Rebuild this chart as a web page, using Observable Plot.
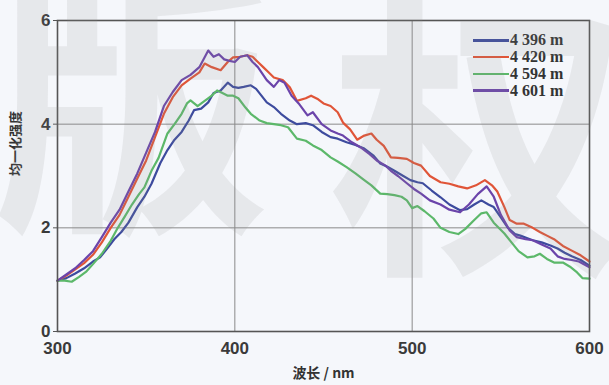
<!DOCTYPE html>
<html>
<head>
<meta charset="utf-8">
<script src="https://cdn.jsdelivr.net/npm/d3@7"></script>
<script src="https://cdn.jsdelivr.net/npm/@observablehq/plot@0.6"></script>
<style>
  html, body { margin: 0; padding: 0; background: #f5f7fb; }
  #wrap { position: relative; width: 609px; height: 385px; overflow: hidden; background: #f5f7fb; }
  #chart svg { display: block; background: transparent; }
  .wm { position: absolute; font-family: "Noto Sans CJK SC", sans-serif; font-weight: 700; color: rgba(140,140,140,0.14); pointer-events: none; line-height: 1; white-space: nowrap; }
  #legend { position: absolute; left: 473px; top: 32px; font-family: "Liberation Serif", "DejaVu Serif", serif; font-weight: 700; font-size: 16px; color: #333; }
  #legend .row { display: flex; align-items: center; height: 16.8px; }
  #legend .sw { width: 36px; height: 2.6px; margin-right: 1px; }
</style>
</head>
<body>
<div id="wrap">
  <div id="chart"></div>
  <div id="legend"></div>
  <div class="wm" style="left:-8px; top:-52px; font-size:280px;">版</div>
  <div class="wm" style="left:330px; top:-30px; font-size:300px;">权</div>
</div>
<script>
// Series names and colours
const seriesNames = ["4 396 m", "4 420 m", "4 594 m", "4 601 m"];
const seriesColors = ["#3d4b9e", "#e05538", "#5cb86a", "#6b44aa"];

// 4 396 m
const wl4396 = [300,305,310,315,320,324,328,332,336,340,345,349,353,358,362,366,370,374,377,381,385,388,392,396,399,402,405,409,412,415,418,422,426,431,435,440,444,449,454,458,463,468,473,478,482,486,490,495,499,503,506,511,516,521,527,531,535,539,543,546,550,554,558,561,565,568,573,578,582,586,590,595,600];
const v4396  = [0.98,1.03,1.12,1.22,1.35,1.43,1.6,1.78,1.92,2.1,2.4,2.6,2.85,3.25,3.5,3.7,3.85,4.07,4.27,4.3,4.42,4.6,4.65,4.8,4.72,4.7,4.72,4.75,4.68,4.55,4.42,4.33,4.2,4.07,4.0,4.02,3.98,3.85,3.75,3.72,3.65,3.6,3.53,3.4,3.24,3.18,3.1,3.0,2.92,2.88,2.86,2.72,2.59,2.45,2.34,2.36,2.45,2.53,2.45,2.4,2.2,2.0,1.88,1.85,1.8,1.76,1.72,1.66,1.6,1.52,1.45,1.38,1.27];

// 4 420 m
const wl4420 = [300,305,310,315,320,325,330,335,340,345,350,355,360,365,370,375,380,383,387,392,396,399,403,407,410,413,416,419,422,427,431,435,440,443,447,450,454,458,461,465,469,473,477,480,484,488,492,497,501,505,510,516,521,526,531,536,541,545,548,552,555,559,563,568,572,576,580,585,590,595,600];
const v4420  = [0.98,1.08,1.2,1.32,1.48,1.72,2.0,2.25,2.6,2.95,3.3,3.75,4.2,4.52,4.75,4.88,5.0,5.17,5.1,5.04,5.2,5.29,5.3,5.33,5.3,5.2,5.1,5.0,4.9,4.85,4.71,4.45,4.5,4.55,4.48,4.4,4.35,4.23,4.03,3.9,3.7,3.78,3.82,3.7,3.58,3.36,3.35,3.33,3.25,3.2,3.0,2.88,2.85,2.8,2.76,2.82,2.92,2.82,2.7,2.4,2.15,2.08,2.08,2.0,1.92,1.85,1.78,1.65,1.56,1.47,1.35];

// 4 594 m
const wl4594 = [300,304,308,312,316,320,325,330,334,338,342,346,349,353,357,362,366,370,373,375,379,383,387,390,393,396,399,402,406,409,414,418,422,426,430,435,440,444,449,454,458,463,468,473,477,482,486,490,494,497,500,503,507,512,516,521,526,530,535,539,542,546,552,556,560,565,569,572,576,580,585,589,593,596,600];
const v4594  = [0.98,0.98,0.96,1.05,1.15,1.3,1.5,1.75,2.0,2.22,2.45,2.65,2.78,3.1,3.35,3.82,4.0,4.2,4.4,4.46,4.35,4.45,4.55,4.65,4.6,4.55,4.55,4.5,4.32,4.2,4.07,4.02,4.0,3.98,3.94,3.72,3.68,3.59,3.5,3.36,3.28,3.17,3.05,2.92,2.82,2.66,2.65,2.63,2.6,2.53,2.38,2.42,2.32,2.18,2.0,1.92,1.88,1.98,2.15,2.28,2.3,2.1,1.89,1.72,1.55,1.43,1.45,1.5,1.4,1.33,1.33,1.25,1.14,1.03,1.02];

// 4 601 m
const wl4601 = [300,305,310,315,320,325,330,335,340,345,350,355,360,365,370,375,380,385,388,391,394,397,400,403,407,410,413,418,422,425,428,432,436,441,444,449,454,458,461,466,471,476,480,485,488,492,497,501,505,510,516,521,527,532,537,542,546,550,555,559,564,568,573,578,582,586,590,594,600];
const v4601  = [0.98,1.1,1.22,1.38,1.55,1.82,2.1,2.35,2.7,3.05,3.45,3.85,4.35,4.62,4.85,4.95,5.1,5.42,5.3,5.35,5.25,5.22,5.2,5.3,5.33,5.2,5.1,4.85,4.72,4.85,4.8,4.55,4.4,4.17,4.23,4.0,3.88,3.82,3.78,3.65,3.55,3.42,3.3,3.2,3.1,3.0,2.86,2.75,2.66,2.53,2.45,2.35,2.3,2.45,2.65,2.8,2.6,2.25,1.95,1.82,1.78,1.76,1.68,1.6,1.45,1.4,1.38,1.35,1.24];

// Axis ticks
const xTicks = [300, 400, 500, 600];
const yTicks = [0, 2, 4, 6];

const allWl = [wl4396, wl4420, wl4594, wl4601];
const allV = [v4396, v4420, v4594, v4601];
const rows = [];
seriesNames.forEach((name, i) => {
  allWl[i].forEach((w, j) => rows.push({series: name, wl: w, v: allV[i][j]}));
});

const chart = Plot.plot({
  width: 609,
  height: 385,
  marginLeft: 57,
  marginRight: 20,
  marginTop: 20,
  marginBottom: 54,
  style: {background: "transparent", fontFamily: "Liberation Sans, Arial, sans-serif"},
  x: {domain: [300, 600], ticks: xTicks, label: null},
  y: {domain: [0, 6], ticks: yTicks, label: null},
  color: {domain: seriesNames, range: seriesColors},
  marks: [
    Plot.gridX(xTicks, {stroke: "#8a8a8a", strokeOpacity: 1, strokeWidth: 1}),
    Plot.gridY(yTicks, {stroke: "#8a8a8a", strokeOpacity: 1, strokeWidth: 1}),
    Plot.line(rows, {x: "wl", y: "v", z: "series", stroke: "series", strokeWidth: 2.2, curve: "linear"}),
    Plot.frame({stroke: "#555", strokeWidth: 1.6}),
    Plot.axisX(xTicks, {tickSize: 0, tickPadding: 10, tickFormat: d => String(d), fontSize: 17, fontWeight: "bold", fill: "#3a3a3a"}),
    Plot.axisY(yTicks, {tickSize: 4, tickPadding: 3, tickFormat: d => String(d), fontSize: 17, fontWeight: "bold", fill: "#3a3a3a", stroke: "#555"}),
    Plot.text(["波长 / nm"], {frameAnchor: "bottom", dy: 46, fontSize: 14, fontWeight: "bold", fill: "#333", fontFamily: "Noto Sans CJK SC, sans-serif"}),
    Plot.text(["均一化强度"], {frameAnchor: "left", dx: -42, rotate: -90, fontSize: 13, fontWeight: "bold", fill: "#333", fontFamily: "Noto Sans CJK SC, sans-serif"})
  ]
});
document.getElementById("chart").appendChild(chart);

const legend = document.getElementById("legend");
seriesNames.forEach((name, i) => {
  const row = document.createElement("div");
  row.className = "row";
  const sw = document.createElement("div");
  sw.className = "sw";
  sw.style.background = seriesColors[i];
  const t = document.createElement("span");
  t.textContent = name;
  row.appendChild(sw);
  row.appendChild(t);
  legend.appendChild(row);
});
</script>
</body>
</html>
